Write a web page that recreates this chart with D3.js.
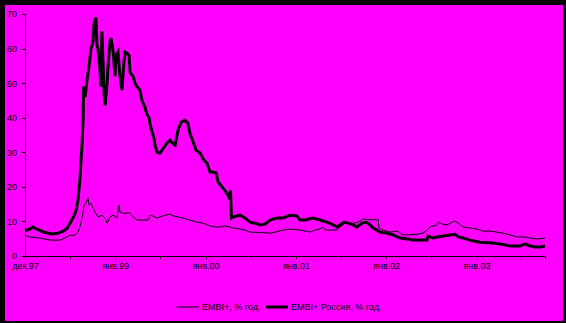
<!DOCTYPE html>
<html>
<head>
<meta charset="utf-8">
<script src="https://cdn.jsdelivr.net/npm/d3@7"></script>
<style>
	html, body { margin: 0; padding: 0; background: #000; }
	svg { display: block; }
	text { font-family: Arial, "Liberation Sans", sans-serif; }
</style>
</head>
<body>
<script>
// EMBI+ composite (thin line)
var embiDates = ["1998-01-01","1998-01-21","1998-03-03","1998-04-12","1998-05-23","1998-06-12","1998-07-02","1998-07-22",
	"1998-08-03","1998-08-11","1998-08-20","1998-08-28","1998-09-05","1998-09-13","1998-09-17","1998-09-25","1998-10-03",
	"1998-10-11","1998-10-23","1998-11-08","1998-11-21","1998-11-29","1998-12-11","1998-12-23","1999-01-08","1999-01-16",
	"1999-01-20","1999-02-01","1999-02-18","1999-03-02","1999-03-14","1999-03-30","1999-04-19","1999-05-14","1999-05-22",
	"1999-06-03","1999-06-19","1999-07-01","1999-07-21","1999-08-11","1999-08-23","1999-09-12","1999-10-02","1999-10-30",
	"1999-11-28","1999-12-22","2000-01-19","2000-02-09","2000-02-29","2000-03-20","2000-04-09","2000-04-21","2000-05-20",
	"2000-06-09","2000-06-29","2000-08-09","2000-09-18","2000-10-08","2000-11-10","2000-12-08","2001-01-17","2001-02-27",
	"2001-03-19","2001-04-08","2001-04-20","2001-04-29","2001-06-16","2001-06-28","2001-07-18","2001-08-28","2001-09-17",
	"2001-09-29","2001-10-28","2001-11-29","2001-12-03","2001-12-19","2002-01-16","2002-02-14","2002-03-10","2002-04-07",
	"2002-05-06","2002-05-30","2002-06-15","2002-06-27","2002-07-26","2002-07-30","2002-08-07","2002-08-19","2002-09-04",
	"2002-09-24","2002-10-06","2002-10-19","2002-11-08","2002-12-06","2003-01-03","2003-01-28","2003-02-25","2003-03-25",
	"2003-04-19","2003-05-17","2003-06-14","2003-07-17","2003-08-06","2003-09-03","2003-10-05"];
var embiValues = [6, 5.5, 5.2, 4.6, 4.6, 5.2, 6, 6,
	6.9, 8.4, 11, 14.7, 15.3, 16.8, 14.7, 15.3, 13.9,
	12.7, 11.3, 11.8, 11, 9.5, 11.3, 11.8, 11, 14.7,
	12.7, 12.4, 12.4, 12.5, 11.3, 10.4, 10.4, 10.4, 11.8,
	11.5, 11, 11.3, 11.8, 12.1, 11.6, 11.3, 11, 10.4,
	9.8, 9.5, 8.7, 8.4, 8.4, 8.7, 8.4, 8.1, 7.8,
	7.5, 6.9, 6.8, 6.6, 6.9, 7.5, 7.8, 7.5, 6.9,
	7.5, 7.8, 8.4, 7.5, 7.5, 8.4, 9.5, 9.5, 10.1,
	10.7, 10.5, 10.5, 8, 7.5, 6.9, 7.2, 6.1, 6.1,
	6.3, 6.6, 7.5, 8.4, 9, 9.8, 9.5, 9.2, 9,
	9.8, 10.1, 9.5, 8.4, 8.1, 7.8, 7.2, 7.2, 6.9,
	6.6, 6.1, 5.5, 5.5, 5.2, 4.9, 5.2];

// EMBI+ Russia (thick line)
var russiaDates = ["1998-01-01","1998-01-21","1998-02-02","1998-02-23","1998-03-23","1998-04-20","1998-05-14","1998-06-04",
	"1998-06-20","1998-07-02","1998-07-14","1998-07-26","1998-08-03","1998-08-11","1998-08-20","1998-08-24","1998-08-26",
	"1998-09-01","1998-09-09","1998-09-17","1998-09-25","1998-10-03","1998-10-07","1998-10-15","1998-10-19","1998-10-23",
	"1998-10-27","1998-10-31","1998-11-04","1998-11-08","1998-11-13","1998-11-17","1998-11-21","1998-11-29","1998-12-03",
	"1998-12-11","1998-12-15","1998-12-23","1998-12-31","1999-01-04","1999-01-12","1999-01-20","1999-01-28","1999-02-05",
	"1999-02-10","1999-02-18","1999-02-26","1999-03-02","1999-03-14","1999-03-22","1999-03-30","1999-04-11","1999-04-19",
	"1999-05-01","1999-05-09","1999-05-18","1999-05-22","1999-05-30","1999-06-07","1999-06-11","1999-06-19","1999-07-01",
	"1999-07-13","1999-07-29","1999-08-11","1999-08-19","1999-08-31","1999-09-12","1999-09-24","1999-10-10","1999-10-22",
	"1999-10-30","1999-11-12","1999-11-24","1999-12-10","1999-12-26","2000-01-07","2000-01-19","2000-01-31","2000-02-13",
	"2000-02-21","2000-03-08","2000-03-24","2000-04-05","2000-04-11","2000-04-15","2000-04-21","2000-05-20","2000-06-09",
	"2000-06-29","2000-07-19","2000-08-09","2000-08-29","2000-09-18","2000-10-16","2000-11-10","2000-12-08","2001-01-05",
	"2001-01-17","2001-02-07","2001-03-11","2001-04-08","2001-05-07","2001-05-31","2001-06-16","2001-06-28","2001-07-14",
	"2001-07-31","2001-08-20","2001-09-05","2001-09-25","2001-10-11","2001-10-28","2001-11-09","2001-11-25","2001-12-07",
	"2002-01-04","2002-01-29","2002-02-26","2002-03-30","2002-04-19","2002-05-18","2002-06-15","2002-06-19","2002-07-09",
	"2002-07-26","2002-08-19","2002-09-16","2002-10-06","2002-10-19","2002-11-08","2002-12-06","2003-01-15","2003-02-25",
	"2003-04-06","2003-05-17","2003-06-26","2003-07-17","2003-08-06","2003-08-26","2003-09-15","2003-10-05"];
var russiaValues = [7.3, 7.8, 8.4, 7.6, 6.8, 6.4, 6.6, 7.2,
	8, 9.5, 11, 13, 16, 22, 33, 39, 49,
	46, 51, 55, 60, 62, 67, 69, 61, 60,
	57, 54, 49, 65, 55, 47, 43.6, 50, 55,
	62, 63, 59.5, 52, 58, 59, 52, 48, 56,
	59, 58.7, 58, 53, 52, 50, 49, 48, 45,
	43, 41, 40, 38, 36, 34, 32, 30, 29.8,
	31, 32.7, 33.5, 32.7, 32, 36.4, 38.7, 39.3, 38.4,
	35.5, 33, 30.6, 29.8, 27.7, 26.9, 24.3, 24.3, 24,
	21.4, 20, 18.5, 17, 19, 11, 11.3, 11.8, 11,
	9.8, 9.5, 9, 9.2, 10.4, 11, 11, 11.8, 11.6,
	10.4, 10.4, 11, 10.4, 9.8, 9, 8.4, 9, 9.8,
	9.5, 9, 8.4, 9.5, 9.8, 9, 8.1, 7.5, 6.9,
	6.6, 6.1, 5.2, 4.9, 4.6, 4.6, 4.6, 5.8, 5.2,
	5.5, 5.8, 6.1, 6.3, 5.5, 5.2, 4.6, 4, 3.8,
	3.5, 2.9, 2.9, 3.5, 2.9, 2.6, 2.6, 2.9];

var xTickLabels = ["дек.97", "янв.99", "янв.00", "янв.01", "янв.02", "янв.03"];
var yTicks = [0, 10, 20, 30, 40, 50, 60, 70];
var seriesNames = ["EMBI+, % год.", "EMBI+ Россия, % год."];

(function () {

	var width = 566,
		height = 323;

	var parseDate = d3.timeParse("%Y-%m-%d");

	var embi = embiDates.map(function(d, i) { return {date: parseDate(d), value: embiValues[i]}; });
	var russia = russiaDates.map(function(d, i) { return {date: parseDate(d), value: russiaValues[i]}; });

	drawChart();

	function drawChart() {

		var svg = d3.select("body").append("svg")
			.attr("width", width)
			.attr("height", height);

		// black frame, magenta plot area
		svg.append("rect")
			.attr("width", width)
			.attr("height", height)
			.attr("fill", "#000");

		svg.append("rect")
			.attr("x", 5)
			.attr("y", 5)
			.attr("width", 558)
			.attr("height", 316)
			.attr("fill", "#ff00ff");

		var x = d3.scaleTime()
			.domain([parseDate(embiDates[0]), parseDate(embiDates[embiDates.length - 1])])
			.range([25, 545]);

		var y = d3.scaleLinear()
			.domain([0, 70])
			.range([256, 14]);

		// half-year ticks, labels only on the yearly ones
		var xTicks = d3.timeMonth.every(6).range(parseDate("1998-01-01"), parseDate("2003-08-01"));

		var xAxis = d3.axisBottom(x)
			.tickValues(xTicks)
			.tickSize(3)
			.tickPadding(4)
			.tickFormat(function(d, i) { return i % 2 === 0 ? xTickLabels[i / 2] : ""; });

		var yAxis = d3.axisLeft(y)
			.tickValues(yTicks)
			.tickSize(3)
			.tickPadding(5);

		var gx = svg.append("g")
			.attr("transform", "translate(0,256)")
			.call(xAxis);

		var gy = svg.append("g")
			.attr("transform", "translate(25,0)")
			.call(yAxis);

		[gx, gy].forEach(function(g) {
			g.select(".domain").attr("stroke", "#000").attr("stroke-width", 1).attr("shape-rendering", "crispEdges");
			g.selectAll(".tick line").attr("stroke", "#000").attr("shape-rendering", "crispEdges");
			g.selectAll(".tick text")
				.attr("fill", "#000")
				.style("font-size", "9px");
		});
		gy.select(".domain").attr("d", "M25,14V256".replace("25", "0"));

		var line = d3.line()
			.x(function(d) { return x(d.date); })
			.y(function(d) { return y(d.value); });

		svg.append("path")
			.datum(embi)
			.attr("d", line)
			.attr("fill", "none")
			.attr("stroke", "#000")
			.attr("stroke-width", 1);

		svg.append("path")
			.datum(russia)
			.attr("d", line)
			.attr("fill", "none")
			.attr("stroke", "#000")
			.attr("stroke-width", 3);

		// legend
		var legend = svg.append("g")
			.attr("transform", "translate(0,307)");

		var items = [
			{x: 177, w: 1, text: seriesNames[0]},
			{x: 266, w: 3, text: seriesNames[1]}
		];

		items.forEach(function(it) {
			legend.append("line")
				.attr("x1", it.x)
				.attr("x2", it.x + 22)
				.attr("stroke", "#000")
				.attr("stroke-width", it.w);
			legend.append("text")
				.attr("x", it.x + 25)
				.attr("dy", "0.35em")
				.style("font-size", "9px")
				.attr("fill", "#000")
				.text(it.text);
		});
	}

})();
</script>
</body>
</html>
